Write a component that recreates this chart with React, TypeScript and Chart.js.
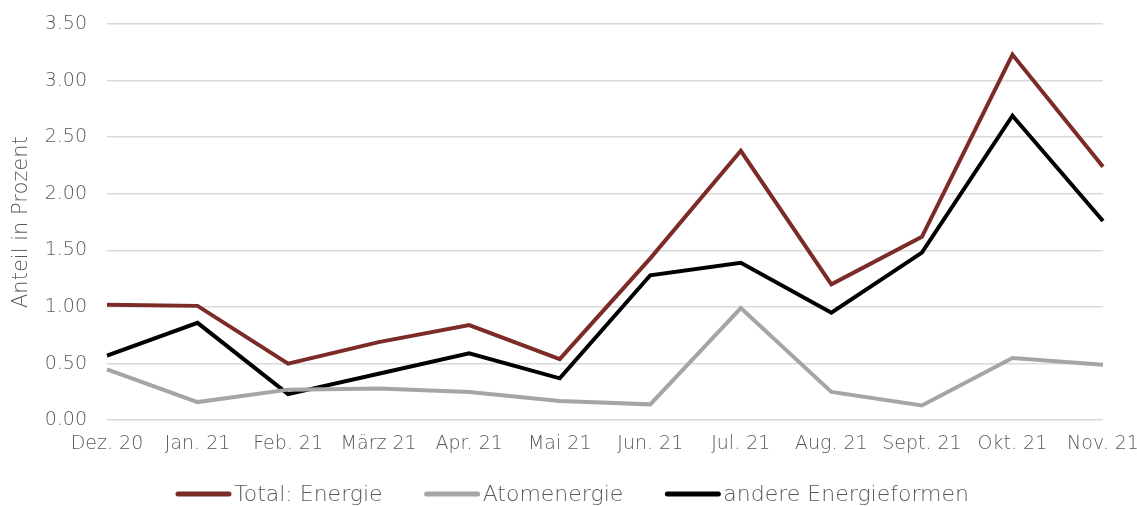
import React, { useEffect, useRef } from "react";
import { Chart, registerables } from "chart.js";

Chart.register(...registerables);

const categories = ["Dez. 20", "Jan. 21", "Feb. 21", "März 21", "Apr. 21", "Mai 21", "Jun. 21", "Jul. 21", "Aug. 21", "Sept. 21", "Okt. 21", "Nov. 21"];
const totalEnergie = [1.02, 1.01, 0.5, 0.69, 0.84, 0.54, 1.43, 2.38, 1.2, 1.62, 3.23, 2.24];
const atomenergie = [0.45, 0.16, 0.27, 0.28, 0.25, 0.17, 0.14, 0.99, 0.25, 0.13, 0.55, 0.49];
const andere = [0.57, 0.86, 0.23, 0.41, 0.59, 0.37, 1.28, 1.39, 0.95, 1.48, 2.69, 1.76];

const FONT = "'DejaVu Sans', sans-serif";
const TEXT = "#595959";

const customLegend = {
  id: "customLegend",
  afterDraw(chart: any) {
    const ctx = chart.ctx;
    const sets = chart.data.datasets;
    const lineW = 55;
    const gapLT = 3;
    const gapItems = 42;
    const y = 494;
    ctx.save();
    ctx.font = `300 22px ${FONT}`;
    const widths = sets.map((d: any) => lineW + gapLT + ctx.measureText(d.label).width);
    const total = widths.reduce((a: number, b: number) => a + b, 0) + gapItems * (sets.length - 1);
    let x = chart.width / 2 - total / 2 + 4;
    sets.forEach((d: any, i: number) => {
      ctx.strokeStyle = d.borderColor;
      ctx.lineWidth = 5;
      ctx.lineCap = "round";
      ctx.beginPath();
      ctx.moveTo(x + 2, y);
      ctx.lineTo(x + lineW - 2, y);
      ctx.stroke();
      ctx.fillStyle = TEXT;
      ctx.textBaseline = "middle";
      ctx.textAlign = "left";
      ctx.fillText(d.label, x + lineW + gapLT, y + 1);
      x += widths[i] + gapItems;
    });
    ctx.restore();
  },
};

export default function App() {
  const ref = useRef<HTMLCanvasElement | null>(null);
  useEffect(() => {
    if (!ref.current) return;
    const chart = new Chart(ref.current, {
      type: "line",
      data: {
        labels: categories,
        datasets: [
          { label: "Total: Energie", data: totalEnergie, borderColor: "#7B2B28", backgroundColor: "#7B2B28", borderWidth: 4, pointRadius: 0, tension: 0 },
          { label: "Atomenergie", data: atomenergie, borderColor: "#A5A5A5", backgroundColor: "#A5A5A5", borderWidth: 4, pointRadius: 0, tension: 0 },
          { label: "andere Energieformen", data: andere, borderColor: "#000000", backgroundColor: "#000000", borderWidth: 4, pointRadius: 0, tension: 0 },
        ],
      },
      plugins: [customLegend],
      options: {
        animation: false,
        responsive: false,
        maintainAspectRatio: false,
        layout: { padding: { left: 0, right: 0, top: 24, bottom: 47 } },
        plugins: {
          legend: { display: false },
          tooltip: { enabled: false },
        },
        scales: {
          x: {
            offset: false,
            grid: { display: false },
            border: { display: false },
            ticks: { color: TEXT, font: { family: FONT, size: 19, weight: "300" }, maxRotation: 0, padding: 4 },
            afterFit: (scale: any) => {
              scale.paddingRight = 34;
            },
          },
          y: {
            min: 0,
            max: 3.5,
            grid: { color: "#D9D9D9", lineWidth: 1.5, drawTicks: false },
            border: { display: false },
            ticks: { stepSize: 0.5, color: TEXT, font: { family: FONT, size: 19, weight: "300" }, padding: 20, callback: (v: any) => Number(v).toFixed(2) },
            title: { display: true, text: "Anteil in Prozent", color: TEXT, font: { family: FONT, size: 21, weight: "300" }, padding: { top: 9, bottom: 6 } },
            afterFit: (scale: any) => {
              scale.width = 107;
              scale.paddingTop = 0;
              scale.paddingBottom = 0;
            },
          },
        },
      },
    });
    return () => chart.destroy();
  }, []);
  return (
    <div style={{ position: "fixed", left: 0, top: 0, width: 1137, height: 506, background: "#fff" }}>
      <canvas ref={ref} width={1137} height={506} />
    </div>
  );
}
